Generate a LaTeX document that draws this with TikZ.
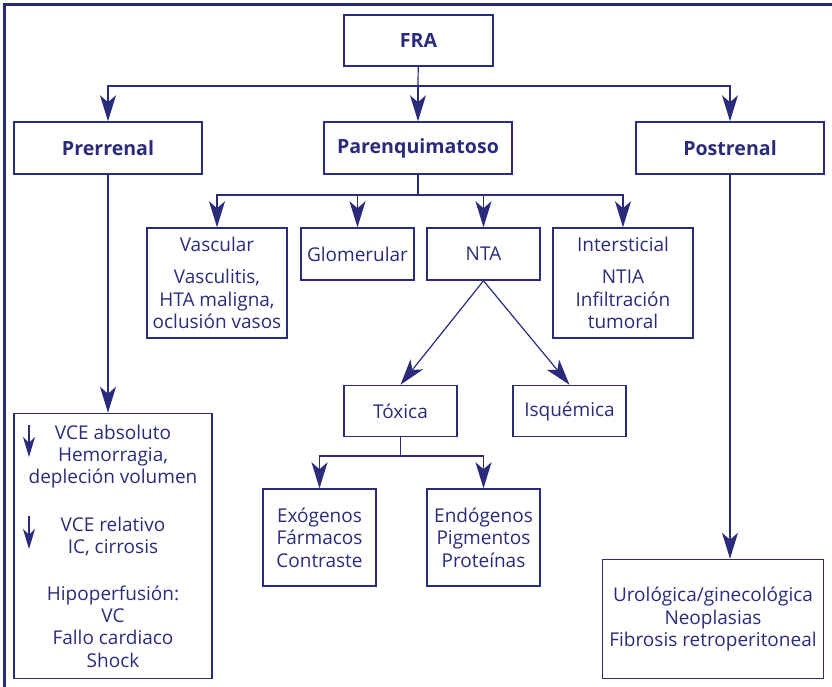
\documentclass[tikz,border=0pt]{standalone}
\usepackage{fontspec}
\setmainfont{Open Sans}
\usetikzlibrary{arrows.meta}
\definecolor{chartink}{HTML}{2B2B7B}
\tikzset{every picture/.append style={color=chartink}}

\begin{document}
\begin{tikzpicture}[
  x=0.5pt, y=-0.5pt,
  >={Stealth[length=13pt,width=8pt,inset=3.5pt]},
  every path/.style={line width=0.6pt},
  box/.style={draw, line width=0.75pt, inner sep=0pt, align=center,
              font=\fontsize{9.5}{11.2}\selectfont},
  head/.style={box, font=\fontsize{9.8}{12}\selectfont\bfseries},
  boxsize/.style 2 args={minimum width=#1*0.5pt, minimum height=#2*0.5pt},
  tick/.style={->, line width=0.6pt,
               >={Stealth[length=10pt,width=6pt,inset=3pt]}},
]
\useasboundingbox (0,0) rectangle (832,687);
% --- Frame (top and left edges only) ---
\draw[line width=1.5pt] (832,4.5) -- (4.5,4.5) -- (4.5,687);

% --- Top levels ---
\node[head, boxsize={149}{51}] (fra)  at (418.5,40.5) {FRA};
\node[head, boxsize={188}{52}] (pre)  at (108,148)   {Prerrenal};
\node[head, boxsize={188}{52}] (par)  at (418,148)   {Parenquimatoso};
\node[head, boxsize={188}{52}] (post) at (730,148)   {Postrenal};

% --- Parenchymal branches ---
\node[box, boxsize={140}{110}] (vasc)  at (217,283)   {Vascular\\[5pt]Vasculitis,\\HTA maligna,\\oclusión vasos};
\node[box, boxsize={113}{52}]  (glom)  at (357.5,254) {Glomerular};
\node[box, boxsize={113}{52}]  (nta)   at (483.5,254) {NTA};
\node[box, boxsize={140}{110}] (inter) at (623,283)   {Intersticial\\[5pt]NTIA\\Infiltración\\tumoral};
\node[box, boxsize={113}{51}]  (tox)   at (400.5,411) {Tóxica};
\node[box, boxsize={113}{51}]  (isq)   at (569.5,411) {Isquémica};
\node[box, boxsize={113}{97}]  (exo)   at (319.5,537.5) {Exógenos\\Fármacos\\Contraste};
\node[box, boxsize={113}{97}]  (endo)  at (483.5,537.5) {Endógenos\\Pigmentos\\Proteínas};

% --- Pre- and postrenal detail ---
\node[box, boxsize={198}{265}] (vce) at (113,546)
  {VCE absoluto\\Hemorragia,\\depleción volumen\\[12.5pt]VCE relativo\\IC, cirrosis\\[12pt]Hipoperfusión:\\VC\\Fallo cardiaco\\Shock};
\node[box, boxsize={221}{119}] (uro) at (713,619)
  {Urológica/ginecológica\\Neoplasias\\Fibrosis retroperitoneal};

% --- FRA split ---
\coordinate (fra split) at (418,86);
\draw (fra) -- (fra split);
\draw[->] (fra split) -| (pre);
\draw[->] (fra split) -- (par);
\draw[->] (fra split) -| (post);

% --- Parenquimatoso split ---
\coordinate (par split) at (418,195);
\draw (par) -- (par split);
\draw[->] (par split) -| (vasc);
\draw[->] (par split) -| (glom);
\draw[->] (par split) -| (nta);
\draw[->] (par split) -| (inter);

% --- NTA and Toxica ---
\draw[->] (nta.south) -- (tox.north);
\draw[->] (nta.south) -- (isq.north);
\coordinate (tox split) at (400.5,456);
\draw (tox) -- (tox split);
\draw[->] (tox split) -| (exo);
\draw[->] (tox split) -| (endo);

% --- Long drops ---
\draw[->] (pre) -- (pre |- vce.north);
\draw[->] (post) -- (post |- uro.north);

% --- Small arrows inside the prerenal box ---
\coordinate (tick1 top) at (29,425);
\coordinate (tick1 end) at (29,457);
\coordinate (tick2 top) at (29,516);
\coordinate (tick2 end) at (29,549);
\draw[tick] (tick1 top) -- (tick1 end);
\draw[tick] (tick2 top) -- (tick2 end);
\end{tikzpicture}
\end{document}
